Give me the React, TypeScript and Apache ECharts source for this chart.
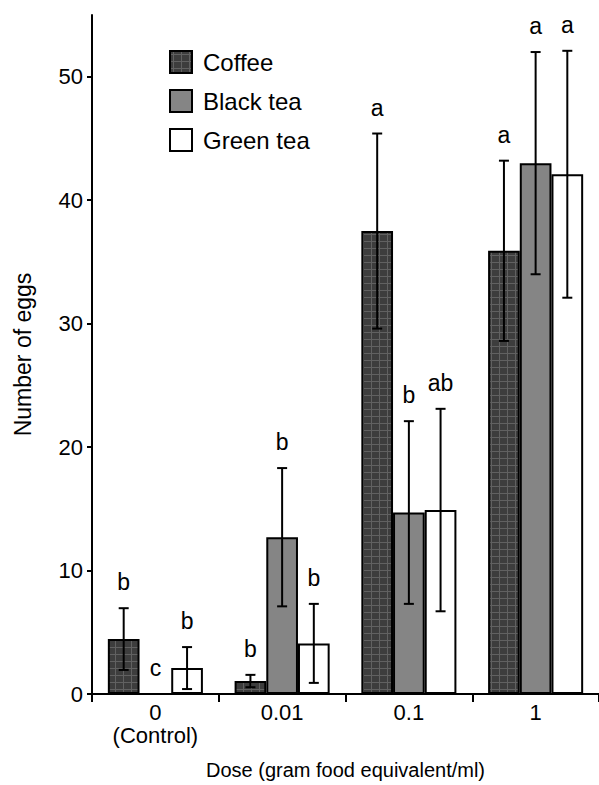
import React, { useEffect, useRef } from "react";
import * as echarts from "echarts";

const categories = ["0\n(Control)", "0.01", "0.1", "1"];
const seriesNames = ["Coffee", "Black tea", "Green tea"];
const coffeeMean = [4.45, 1.05, 37.5, 35.9];
const coffeeErr = [2.5, 0.5, 7.9, 7.3];
const blackMean = [0, 12.7, 14.7, 43.0];
const blackErr = [0, 5.6, 7.4, 9.0];
const greenMean = [2.1, 4.1, 14.9, 42.1];
const greenErr = [1.7, 3.2, 8.2, 10.0];
const coffeeLetters = ["b", "b", "a", "a"];
const blackLetters = ["c", "b", "b", "a"];
const greenLetters = ["b", "b", "ab", "a"];
const yTicks = [0, 10, 20, 30, 40, 50];

const FONT = "'Liberation Sans', Arial, sans-serif";

function makeCoffeePattern() {
  const c = document.createElement("canvas");
  c.width = 8;
  c.height = 7;
  const ctx = c.getContext("2d")!;
  ctx.fillStyle = "#3d3d3d";
  ctx.fillRect(0, 0, 8, 7);
  ctx.fillStyle = "#616161";
  ctx.fillRect(3, 0, 1, 7);
  ctx.fillRect(0, 3, 8, 1);
  return c;
}

export default function App() {
  const ref = useRef<HTMLDivElement>(null);
  useEffect(() => {
    if (!ref.current) return;
    const chart = echarts.init(ref.current, undefined, { renderer: "svg" });
    const means = [coffeeMean, blackMean, greenMean];
    const errs = [coffeeErr, blackErr, greenErr];
    const letters = [coffeeLetters, blackLetters, greenLetters];
    const colors: any[] = [
      { image: makeCoffeePattern(), repeat: "repeat" },
      "#858585",
      "#ffffff",
    ];
    const barSeries = seriesNames.map((name, s) => ({
      name,
      type: "bar",
      data: means[s],
      barGap: "0%",
      barCategoryGap: "25%",
      itemStyle: { color: colors[s], borderColor: "#000", borderWidth: 2 },
    }));
    const errSeries = seriesNames.map((name, s) => ({
      name: "err-" + name,
      type: "custom",
      z: 5,
      data: means[s].map((m, i) => [i, m, errs[s][i]]),
      encode: { x: 0, y: 1 },
      renderItem: (params: any, api: any) => {
        const ci = api.value(0);
        const m = api.value(1);
        const e = api.value(2);
        const band = api.size([1, 0])[0];
        const cx = api.coord([ci, 0])[0] + (s - 1) * band * 0.25;
        const top = api.coord([ci, m + e])[1];
        const bot = api.coord([ci, m - e])[1];
        const children: any[] = [];
        const ls = { stroke: "#000", lineWidth: 2 };
        if (e > 0) {
          children.push({ type: "line", shape: { x1: cx, y1: top, x2: cx, y2: bot }, style: ls });
          children.push({ type: "line", shape: { x1: cx - 5, y1: top, x2: cx + 5, y2: top }, style: ls });
          children.push({ type: "line", shape: { x1: cx - 5, y1: bot, x2: cx + 5, y2: bot }, style: ls });
        }
        children.push({
          type: "text",
          style: {
            text: letters[s][params.dataIndex],
            x: cx,
            y: top - 26,
            align: "center",
            verticalAlign: "middle",
            fontSize: 23,
            fontFamily: FONT,
            fill: "#000",
          },
        });
        return { type: "group", children };
      },
    }));
    chart.setOption({
      animation: false,
      textStyle: { fontFamily: FONT },
      legend: {
        data: seriesNames,
        orient: "vertical",
        icon: "rect",
        left: 164,
        top: 45,
        itemWidth: 22,
        itemHeight: 22,
        itemGap: 15,
        textStyle: { fontSize: 24, lineHeight: 22, color: "#000", fontFamily: FONT, padding: [0, 0, 0, 6] },
      },
      grid: { left: 92, top: 15, right: -11, bottom: 91 },
      xAxis: {
        type: "category",
        data: categories,
        name: "Dose (gram food equivalent/ml)",
        nameLocation: "middle",
        nameGap: 66,
        nameTextStyle: { fontSize: 20, color: "#000", fontFamily: FONT },
        axisLine: { lineStyle: { color: "#000", width: 2 } },
        axisTick: { show: true, length: 8, lineStyle: { color: "#000", width: 2 } },
        axisLabel: { fontSize: 22, color: "#000", margin: 7, lineHeight: 23, fontFamily: FONT },
      },
      yAxis: {
        type: "value",
        min: 0,
        max: 55,
        interval: 10,
        name: "Number of eggs",
        nameLocation: "middle",
        nameGap: 58,
        nameTextStyle: { fontSize: 23, color: "#000", fontFamily: FONT },
        splitLine: { show: false },
        axisLine: { show: true, lineStyle: { color: "#000", width: 2 } },
        axisTick: { show: true, length: 5, customValues: yTicks, lineStyle: { color: "#000", width: 2 } },
        axisLabel: { fontSize: 22, color: "#000", margin: 9, customValues: yTicks, fontFamily: FONT },
      },
      series: [...barSeries, ...errSeries],
    });
    return () => chart.dispose();
  }, []);
  return (
    <div
      ref={ref}
      style={{ position: "absolute", left: 0, top: 0, width: 599, height: 785, background: "#fff" }}
    />
  );
}
